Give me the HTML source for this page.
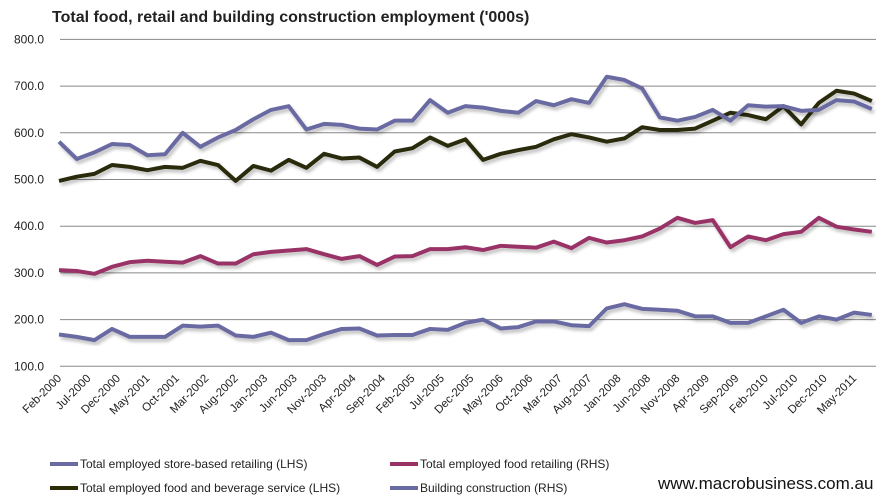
<!DOCTYPE html>
<html><head><meta charset="utf-8"><style>
body{margin:0;background:#fff;}
svg{display:block;font-family:"Liberation Sans",sans-serif;}
</style></head><body>
<svg id="chart" width="891" height="504">
<defs><filter id="sh" x="-5%" y="-5%" width="110%" height="120%"><feGaussianBlur in="SourceAlpha" stdDeviation="1.5"/><feOffset dx="2" dy="3"/><feComponentTransfer><feFuncA type="linear" slope="0.25"/></feComponentTransfer><feMerge><feMergeNode/><feMergeNode in="SourceGraphic"/></feMerge></filter></defs>
<text x="52" y="22" font-size="16" font-weight="bold" fill="#222">Total food, retail and building construction employment ('000s)</text>
<g id="grid"></g><g id="yt"></g><g id="xt"></g><g id="lines"></g>
<g font-size="12" fill="#222">
<line x1="50" y1="464" x2="78" y2="464" stroke="#6b6ba3" stroke-width="4"/>
<text x="80" y="468">Total employed store-based retailing (LHS)</text>
<line x1="50" y1="488" x2="78" y2="488" stroke="#2b2b08" stroke-width="4"/>
<text x="80" y="492">Total employed food and beverage service (LHS)</text>
<line x1="390" y1="464" x2="418" y2="464" stroke="#993366" stroke-width="4"/>
<text x="420" y="468">Total employed food retailing (RHS)</text>
<line x1="390" y1="488" x2="418" y2="488" stroke="#6b6ba3" stroke-width="4"/>
<text x="420" y="492">Building construction (RHS)</text>
</g>
<text x="658" y="489" font-size="17" fill="#111">www.macrobusiness.com.au</text>
</svg>
<script>
const months=['Jan','Feb','Mar','Apr','May','Jun','Jul','Aug','Sep','Oct','Nov','Dec'];
const yTicks=[100,200,300,400,500,600,700,800];
const storeBased=[581,544,558,576,574,552,554,600,570,590,606,629,649,657,607,619,617,609,607,626,626,670,643,657,654,647,643,668,659,672,664,720,713,695,633,626,634,649,626,659,656,657,647,649,670,667,651];
const foodBeverage=[497,506,512,531,527,520,527,525,540,531,497,529,519,542,525,555,545,547,527,560,567,590,572,586,542,555,563,570,586,597,590,581,588,612,606,606,609,626,643,638,629,657,618,664,690,684,668];
const foodRetailing=[306,304,298,313,323,326,324,322,336,320,320,340,345,348,351,340,330,336,317,335,336,351,351,355,349,358,356,354,367,353,375,365,370,378,395,418,407,413,355,378,370,383,388,418,399,393,388];
const building=[168,163,156,180,163,163,163,187,185,187,166,163,172,156,156,169,180,181,166,167,167,180,178,193,200,181,184,196,196,188,186,224,233,223,221,219,207,207,193,193,207,221,193,207,200,215,210];
const NS='http://www.w3.org/2000/svg';
const x0=59,dx=17.67/3;
const xm=m=>x0+m*dx;
const y=v=>366.3-(v-100)*0.467;
function el(t,a,p){const e=document.createElementNS(NS,t);for(const k in a)e.setAttribute(k,a[k]);document.getElementById(p).appendChild(e);return e;}
yTicks.forEach(v=>{
 const g=el('line',{x1:60,x2:876,y1:y(v),y2:y(v),stroke:'#888','stroke-width':1},'grid');
 
 
 const t=el('text',{x:44,y:y(v)+4,'font-size':12,'text-anchor':'end',fill:'#222'},'yt');
 t.textContent=v.toFixed(1);
 
 
});
for(let m=0;m<=135;m+=5){
 const mi=(1+m)%12, yr=2000+Math.floor((1+m)/12);
 const xx=xm(m)+3;
 const t=el('text',{x:xx,y:379,'font-size':11.5,'text-anchor':'end',fill:'#222',transform:`rotate(-45 ${xx} 379)`},'xt');
 t.textContent=months[mi]+'-'+yr;
 
 
}
[[building,'#6b6ba3','series-building-construction'],[foodRetailing,'#993366','series-food-retailing'],[foodBeverage,'#2b2b08','series-food-beverage'],[storeBased,'#6b6ba3','series-store-based-retailing']].forEach(([d,c,n])=>{
 const p=el('polyline',{points:d.map((v,i)=>xm(i*3)+','+y(v)).join(' '),fill:'none',stroke:c,'stroke-width':4,'stroke-linejoin':'round',filter:'url(#sh)'},'lines');
 
 
});
</script>
</body></html>
